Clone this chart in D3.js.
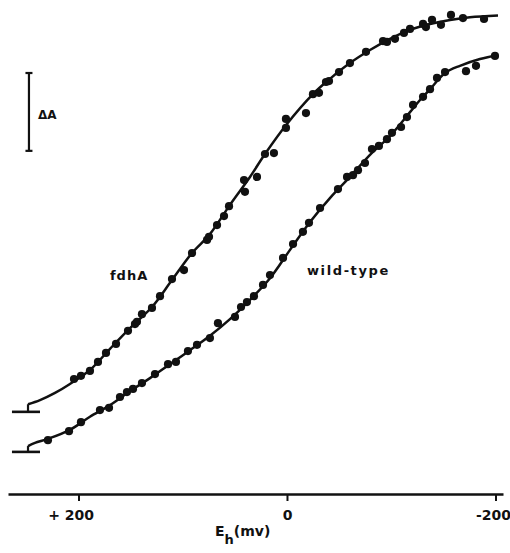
<!DOCTYPE html>
<html>
<head>
<meta charset="utf-8">
<script src="https://cdn.jsdelivr.net/npm/d3@7"></script>
<style>
  body { margin: 0; background: #fff; }
  text { font-family: "DejaVu Sans", sans-serif; font-weight: bold; fill: #111; }
</style>
</head>
<body>
<div id="chart"></div>
<script>
// redox titration points, Eh in mV, absorbance change in relative units
const fdhaE = [204.3, 197.6, 189.0, 181.3, 173.6, 164.0, 152.5, 145.8, 143.9, 139.1, 129.5, 121.8,
  110.3, 98.8, 91.1, 76.7, 74.8, 67.1, 60.4, 55.6, 40.3, 41.2, 28.8, 21.1, 12.5, 1.0, 1.0,
  -18.2, -24.9, -30.7, -37.4, -40.3, -49.9, -60.4, -75.8, -92.1, -95.9, -103.6, -112.2,
  -118.0, -130.5, -133.3, -139.1, -147.7, -157.3, -168.8, -189.0];
const fdhaA = [18.0, 18.7, 19.8, 21.8, 23.8, 25.8, 28.7, 30.2, 30.7, 32.4, 33.8, 36.4,
  40.2, 42.2, 46.0, 48.9, 49.6, 52.2, 54.2, 56.4, 59.6, 62.2, 62.9, 68.0, 68.2, 73.8, 75.8,
  77.1, 81.3, 81.6, 84.0, 84.2, 86.2, 88.2, 90.7, 93.1, 92.9, 93.6, 94.9,
  95.8, 96.9, 96.2, 97.8, 96.7, 98.9, 98.2, 98.0];

const wtE = [229.3, 209.1, 197.6, 179.4, 170.7, 160.2, 153.5, 147.7, 139.1, 126.6, 114.1, 106.5,
  95.0, 86.3, 73.9, 66.2, 49.9, 44.1, 38.4, 31.7, 23.0, 16.3, 3.8, -5.8, -15.3, -21.1,
  -31.7, -48.9, -57.6, -63.3, -68.1, -74.8, -81.5, -88.2, -95.9, -100.7, -109.4, -115.1,
  -120.9, -130.5, -137.2, -143.9, -151.6, -171.7, -181.3, -199.5];
const wtA = [4.4, 6.4, 8.4, 11.1, 11.6, 14.0, 15.1, 15.8, 17.1, 19.1, 21.3, 21.8,
  24.2, 25.6, 27.1, 30.4, 31.8, 34.0, 35.1, 36.4, 38.9, 41.1, 44.9, 48.0, 50.7, 52.7,
  56.0, 60.2, 62.9, 63.3, 64.4, 66.0, 69.1, 69.8, 71.3, 72.7, 74.0, 76.2,
  78.9, 80.7, 82.4, 84.9, 86.2, 86.4, 87.6, 89.8];

// fitted curves as drawn
const fdhaFitE = [248.4, 236.9, 222.5, 208.2, 189.0, 169.8, 150.6, 129.5, 110.3, 91.1, 73.9, 54.7,
  35.5, 21.1, 1.0, -24.9, -41.2, -60.4, -79.6, -98.8, -118.0, -137.2, -156.4, -175.5, -202.4];
const fdhaFitA = [12.4, 13.3, 14.9, 16.9, 20.0, 24.7, 29.3, 34.0, 40.0, 46.0, 50.2, 56.7,
  62.9, 68.0, 74.4, 81.3, 84.7, 88.2, 91.1, 93.6, 95.6, 96.9, 97.8, 98.4, 98.8];
const wtFitE = [248.4, 241.7, 229.3, 208.2, 189.0, 169.8, 150.6, 131.4, 112.2, 93.0, 73.9, 54.7,
  35.5, 16.3, -2.9, -22.1, -41.2, -60.4, -79.6, -98.8, -118.0, -127.6, -137.2, -151.6, -165.9,
  -185.1, -202.4];
const wtFitA = [3.1, 3.8, 4.7, 6.7, 9.6, 12.2, 15.3, 18.2, 21.3, 24.4, 27.6, 31.3,
  35.6, 40.4, 46.7, 52.9, 58.2, 62.9, 67.8, 72.0, 77.3, 80.0, 82.4, 86.0, 87.6,
  89.1, 90.0];

const baselines = [10.7, 1.8];   // fdhA, wild-type
const tickValues = [200, 0, -200];
const tickLabels = ["+ 200", "0", "-200"];

const width = 510, height = 553;

const svg = d3.select("#chart")
  .append("svg")
    .attr("width", width)
    .attr("height", height);

const x = d3.scaleLinear()
  .domain([267.6, -207.2])
  .range([8, 503]);

const y = d3.scaleLinear()
  .domain([0, 100])
  .range([460, 10]);

// X axis
const axis = svg.append("g")
  .attr("transform", "translate(0,494)")
  .call(d3.axisBottom(x)
    .tickValues(tickValues)
    .tickSize(7)
    .tickSizeOuter(0)
    .tickFormat((d, i) => tickLabels[i]));
axis.select(".domain").attr("stroke", "#111").attr("stroke-width", 2.5);
axis.selectAll(".tick line").attr("stroke", "#111").attr("stroke-width", 2);
axis.selectAll(".tick text")
  .attr("y", 16)
  .attr("dy", "0.71em")
  .attr("text-anchor", "end")
  .attr("dx", (d) => d === 0 ? 5 : 15)
  .style("font-size", "14px")
  .style("font-family", "DejaVu Sans, sans-serif")
  .style("font-weight", "bold")
  .attr("fill", "#111");

const title = svg.append("text")
  .attr("x", 215)
  .attr("y", 536)
  .style("font-size", "14px");
title.append("tspan").text("E");
title.append("tspan").attr("dy", 8).style("font-size", "13px").text("h");
title.append("tspan").attr("dy", -8).text("(mv)");

const line = d3.line()
  .x(d => x(d[0]))
  .y(d => y(d[1]))
  .curve(d3.curveCatmullRom.alpha(0.5));

const fits = [d3.zip(fdhaFitE, fdhaFitA), d3.zip(wtFitE, wtFitA)];

svg.selectAll(".fit")
  .data(fits)
  .enter()
  .append("path")
    .attr("class", "fit")
    .attr("d", line)
    .attr("fill", "none")
    .attr("stroke", "#111")
    .attr("stroke-width", 2.5);

// baseline feet at the left end
baselines.forEach((b, i) => {
  svg.append("line")
    .attr("x1", x(263.8)).attr("x2", x(236.9))
    .attr("y1", y(b)).attr("y2", y(b))
    .attr("stroke", "#111").attr("stroke-width", 2.6);
  svg.append("line")
    .attr("x1", x(248.4)).attr("x2", x(248.4))
    .attr("y1", y(b)).attr("y2", y(fits[i][0][1]))
    .attr("stroke", "#111").attr("stroke-width", 2.2);
});

// points
const pts = d3.zip(fdhaE, fdhaA).concat(d3.zip(wtE, wtA));
svg.selectAll(".pt")
  .data(pts)
  .enter()
  .append("circle")
    .attr("class", "pt")
    .attr("cx", d => x(d[0]))
    .attr("cy", d => y(d[1]))
    .attr("r", 4.1)
    .attr("fill", "#111");

// delta A scale bar
const barE = 247.5, barTop = 86.0, barBot = 68.7;
svg.append("line")
  .attr("x1", x(barE)).attr("x2", x(barE))
  .attr("y1", y(barTop)).attr("y2", y(barBot))
  .attr("stroke", "#111").attr("stroke-width", 2.2);
[barTop, barBot].forEach(v => {
  svg.append("line")
    .attr("x1", x(barE) - 3.5).attr("x2", x(barE) + 3.5)
    .attr("y1", y(v)).attr("y2", y(v))
    .attr("stroke", "#111").attr("stroke-width", 2.2);
});
svg.append("text")
  .attr("x", x(238.8))
  .attr("y", y(75.8))
  .style("font-size", "12px")
  .text("ΔA");

svg.append("text")
  .attr("x", x(169.8))
  .attr("y", y(40.0))
  .style("font-size", "13px")
  .style("letter-spacing", "1px")
  .text("fdhA");

svg.append("text")
  .attr("x", x(-19.2))
  .attr("y", y(41.1))
  .style("font-size", "13px")
  .style("letter-spacing", "1.6px")
  .text("wild-type");
</script>
</body>
</html>
